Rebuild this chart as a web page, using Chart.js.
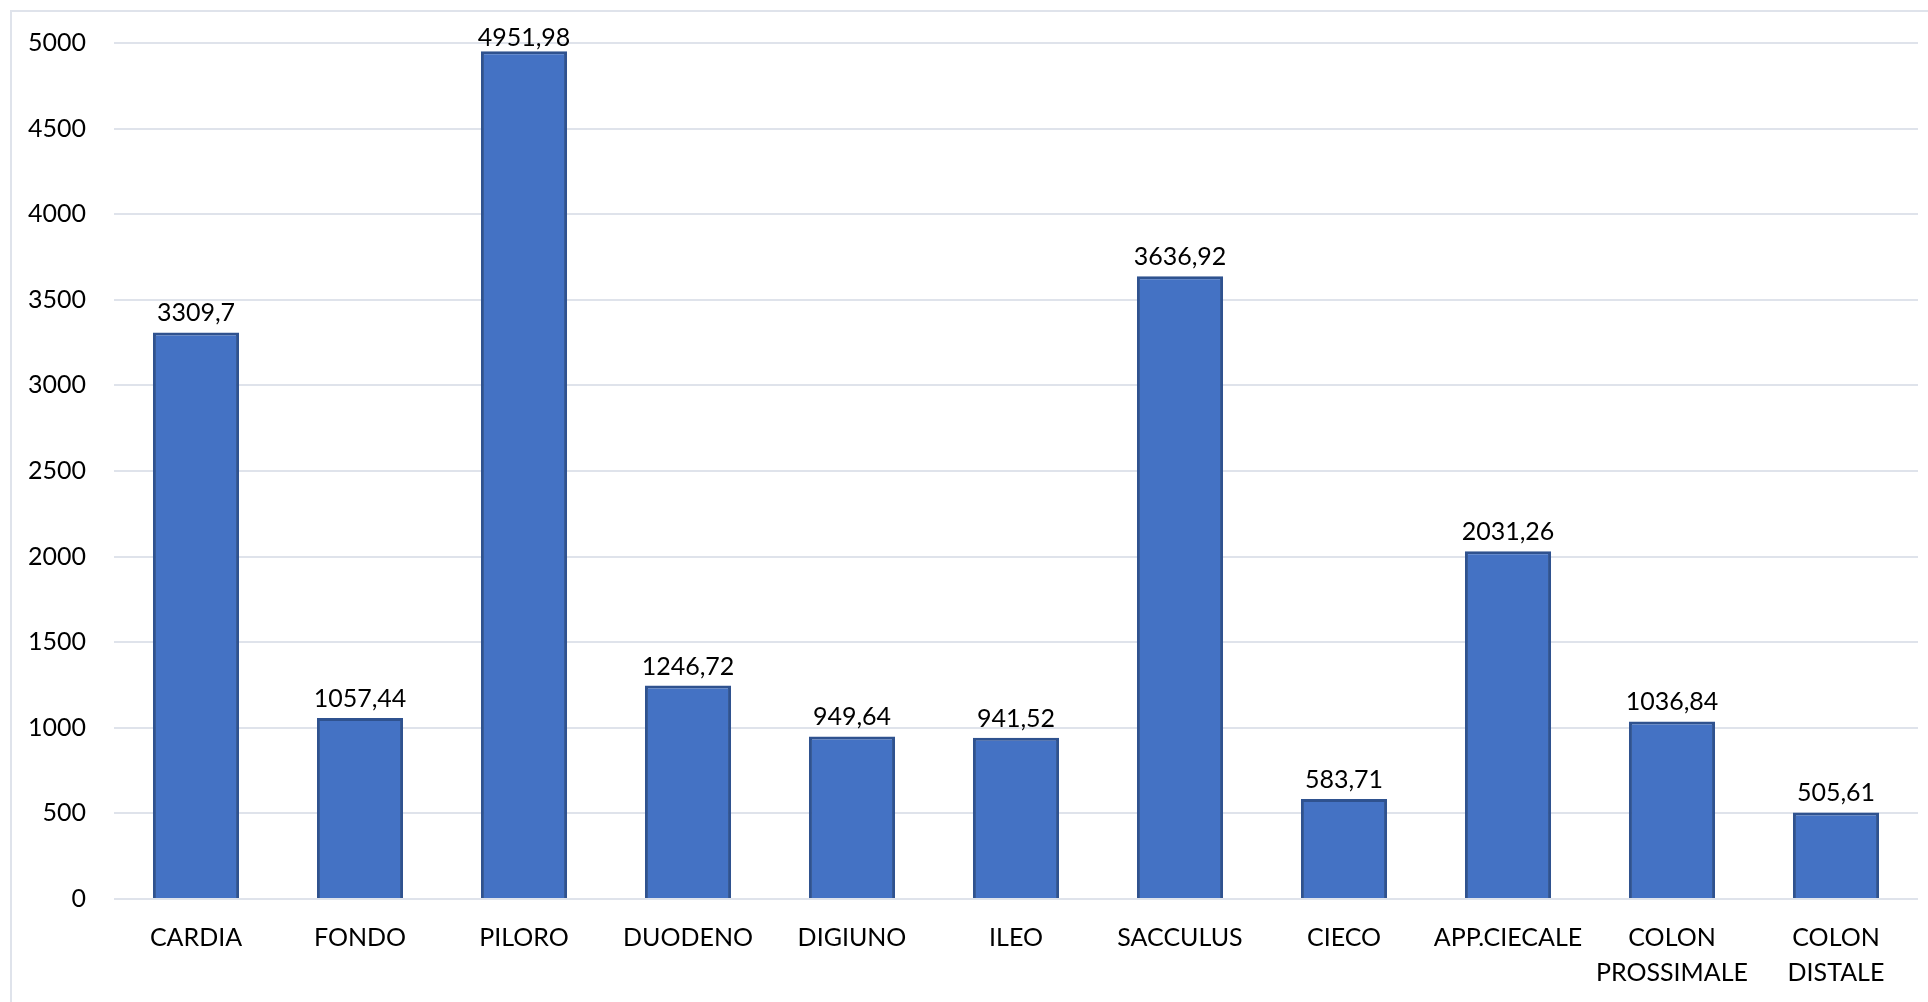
<!DOCTYPE html>
<html lang="it">
<head>
  <meta charset="UTF-8" />
  <title>Valori per segmento</title>
  <script src="https://cdn.jsdelivr.net/npm/chart.js"></script>
  <style>
    html, body { margin: 0; padding: 0; background: #fff; }
    #wrap { position: relative; width: 1928px; height: 1002px; overflow: hidden; }
    #frame { position: absolute; left: 10px; top: 10px; width: 1940px; height: 1010px;
             border: 2px solid #dfe3eb; box-sizing: border-box; pointer-events: none; }
    canvas { position: absolute; left: 0; top: 0; }
  </style>
</head>
<body>
  <div id="wrap">
    <div id="frame"></div>
    <canvas id="chart" width="1928" height="1002"></canvas>
  </div>

  <script>
    const categories = [
      "CARDIA", "FONDO", "PILORO", "DUODENO", "DIGIUNO", "ILEO",
      "SACCULUS", "CIECO", "APP.CIECALE", ["COLON", "PROSSIMALE"], ["COLON", "DISTALE"]
    ];
    const values = [3309.7, 1057.44, 4951.98, 1246.72, 949.64, 941.52, 3636.92, 583.71, 2031.26, 1036.84, 505.61];
    const yTicks = [0, 500, 1000, 1500, 2000, 2500, 3000, 3500, 4000, 4500, 5000];

    const font = "Lato, 'Open Sans', sans-serif";

    // value labels on top of each bar, comma as decimal separator
    // (kept inside the frame when the bar reaches the top)
    const barLabels = {
      id: 'barLabels',
      afterDatasetsDraw(chart) {
        const ctx = chart.ctx;
        const meta = chart.getDatasetMeta(0);
        ctx.save();
        ctx.font = "25px " + font;
        ctx.fillStyle = "#000";
        ctx.textAlign = "center";
        ctx.textBaseline = "alphabetic";
        meta.data.forEach((bar, i) => {
          const txt = String(values[i]).replace('.', ',');
          ctx.fillText(txt, bar.x, Math.max(bar.y - 11, 46));
        });
        ctx.restore();
      }
    };

    new Chart(document.getElementById('chart'), {
      type: 'bar',
      data: {
        labels: categories,
        datasets: [{
          data: values,
          backgroundColor: '#4472C4',
          borderColor: '#2F528F',
          borderWidth: 3,
          categoryPercentage: 1,
          barPercentage: 0.525
        }]
      },
      options: {
        responsive: false,
        animation: false,
        layout: { padding: { top: 42, right: 10, bottom: 0, left: 0 } },
        plugins: {
          legend: { display: false },
          tooltip: { enabled: false }
        },
        scales: {
          x: {
            grid: { display: false },
            border: { display: false },
            ticks: {
              color: '#000',
              font: { family: font, size: 25, lineHeight: 1.4 },
              padding: 13,
              maxRotation: 0,
              autoSkip: false
            },
            afterFit(scale) { scale.height = 103; }
          },
          y: {
            min: 0,
            max: 5000,
            afterBuildTicks(scale) { scale.ticks = yTicks.map(v => ({ value: v })); },
            grid: { color: '#dfe3eb', lineWidth: 2, drawTicks: false },
            border: { display: false },
            ticks: {
              color: '#000',
              font: { family: font, size: 25 },
              padding: 28,
              callback: v => String(v)
            },
            afterFit(scale) { scale.width = 114; }
          }
        }
      },
      plugins: [barLabels]
    });
  </script>
</body>
</html>
